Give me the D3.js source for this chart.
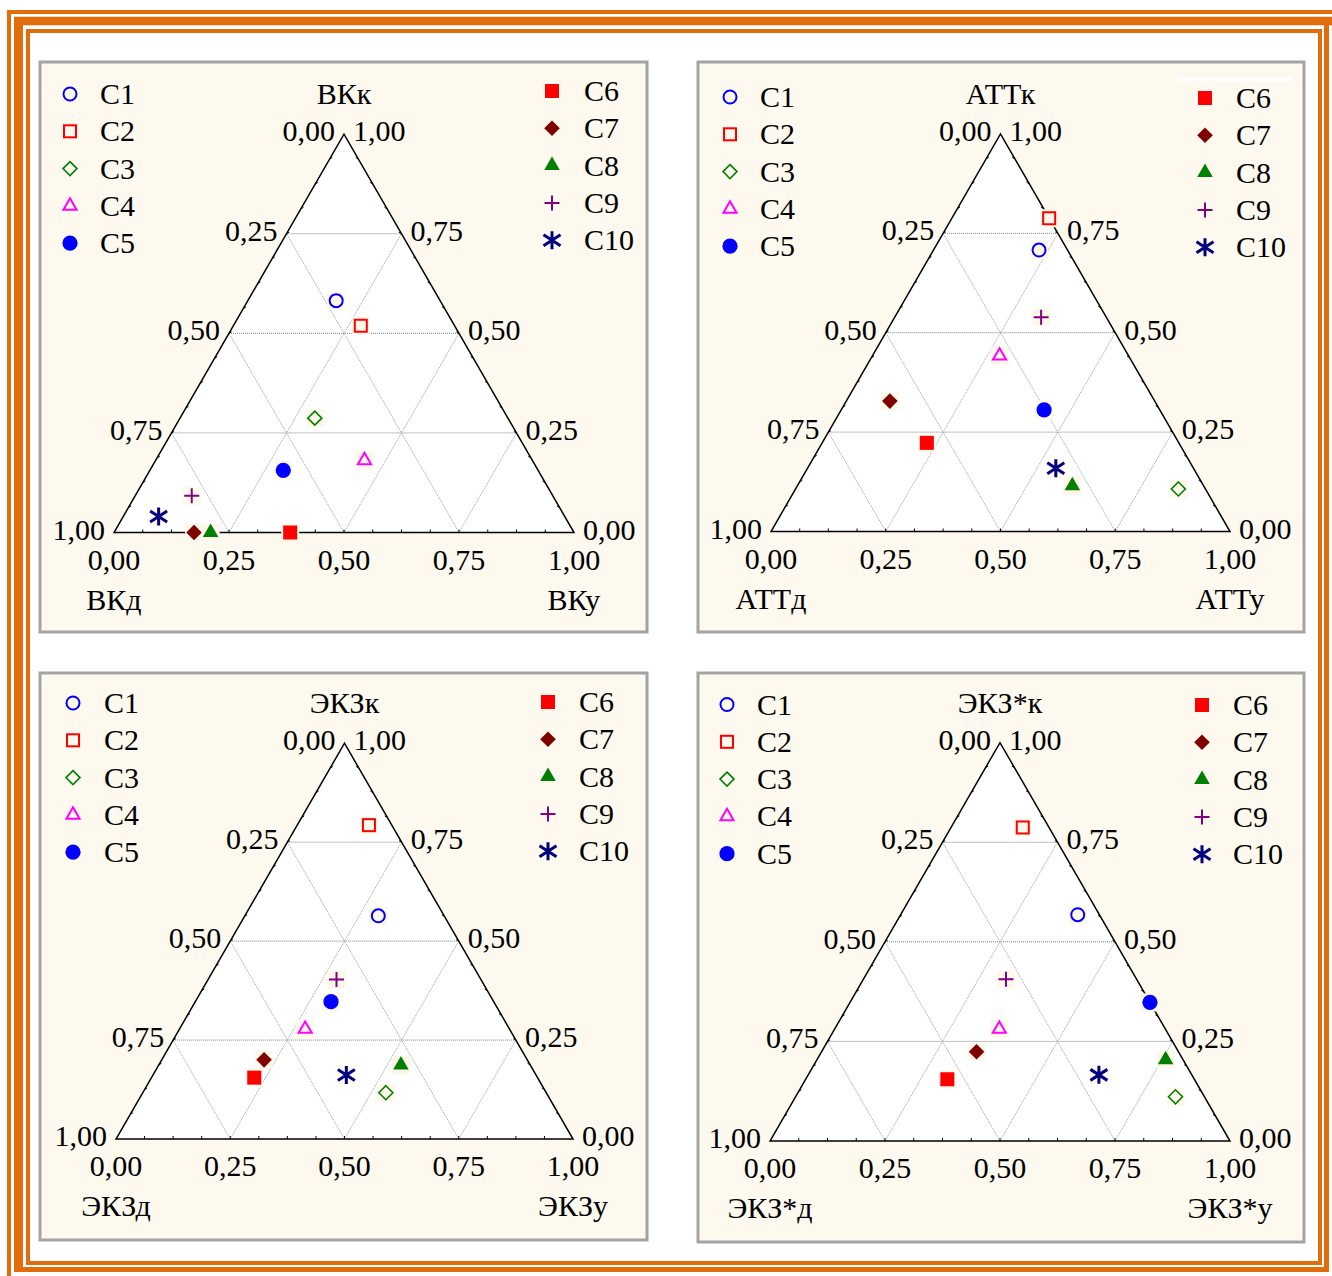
<!DOCTYPE html>
<meta charset="utf-8">
<script src="https://d3js.org/d3.v7.min.js"></script>
<style>
  body { margin: 0; background: #fff; }
  text { font-family: "Liberation Serif", "DejaVu Serif", serif; font-size: 30px; fill: #000; }
</style>
<div id="chart"></div>

<script>

// the series names (legend)
var seriesNames = ["C1", "C2", "C3", "C4", "C5", "C6", "C7", "C8", "C9", "C10"];

// values per series, as [д, к, у] (they add up to 1)
var vkData = [
  [0.226, 0.582, 0.192], [0.204, 0.519, 0.277], [0.420, 0.287, 0.293], [0.365, 0.181, 0.454],
  [0.554, 0.156, 0.290], [0.617, 0.000, 0.383], [0.826, 0.000, 0.174], [0.790, 0.000, 0.210],
  [0.785, 0.092, 0.123], [0.883, 0.040, 0.077]
];
var attData = [
  [0.062, 0.708, 0.230], [0.000, 0.788, 0.212], [0.059, 0.107, 0.834], [0.281, 0.442, 0.277],
  [0.252, 0.306, 0.442], [0.549, 0.223, 0.228], [0.577, 0.328, 0.095], [0.286, 0.115, 0.599],
  [0.142, 0.539, 0.319], [0.300, 0.159, 0.541]
];
var ekzData = [
  [0.144, 0.564, 0.292], [0.050, 0.793, 0.157], [0.351, 0.117, 0.532], [0.447, 0.278, 0.275],
  [0.356, 0.347, 0.297], [0.620, 0.155, 0.225], [0.576, 0.200, 0.224], [0.283, 0.187, 0.530],
  [0.316, 0.403, 0.281], [0.415, 0.162, 0.423]
];
var ekzStarData = [
  [0.047, 0.568, 0.385], [0.057, 0.787, 0.156], [0.063, 0.111, 0.826], [0.361, 0.281, 0.358],
  [0.000, 0.348, 0.652], [0.537, 0.155, 0.308], [0.439, 0.224, 0.337], [0.038, 0.204, 0.758],
  [0.284, 0.406, 0.310], [0.202, 0.166, 0.632]
];

// axis ticks
var tickValues = [0, 0.25, 0.5, 0.75, 1];
var gridValues = [0.25, 0.5, 0.75];
var minorValues = d3.range(1, 16).map(function (i) { return i / 16; });

// comma decimals like the original
var fmt = d3.formatLocale({decimal: ",", thousands: " ", grouping: [3], currency: ["", ""]}).format(".2f");

// marker styles per series
var markerColor = ["#0000ff", "#ff0000", "#008000", "#ff00ff", "#0000ff", "#ff0000", "#800000", "#008000", "#800080", "#000080"];

var svg = d3.select("#chart")
    .append("svg")
    .attr("width", 1332)
    .attr("height", 1276);

// orange frame
var orange = "#e36c0a";
var frame = svg.append("g").attr("stroke", orange).attr("fill", "none");
frame.append("line").attr("x1", 9).attr("y1", 12).attr("x2", 1340).attr("y2", 12).attr("stroke-width", 4);
frame.append("line").attr("x1", 9).attr("y1", 10).attr("x2", 9).attr("y2", 1280).attr("stroke-width", 4);
frame.append("line").attr("x1", 14).attr("y1", 21).attr("x2", 1332).attr("y2", 21).attr("stroke-width", 8.5);
frame.append("line").attr("x1", 18.5).attr("y1", 17).attr("x2", 18.5).attr("y2", 1272).attr("stroke-width", 9);
frame.append("line").attr("x1", 1326.5).attr("y1", 17).attr("x2", 1326.5).attr("y2", 1272).attr("stroke-width", 5);
frame.append("line").attr("x1", 14).attr("y1", 1269.5).attr("x2", 1329).attr("y2", 1269.5).attr("stroke-width", 5);
frame.append("rect").attr("x", 28).attr("y", 31).attr("width", 1292).attr("height", 1232).attr("stroke-width", 4);

// one marker, centred at 0,0
function drawMarker(g, i) {
  var c = markerColor[i];
  if (i == 0) g.append("circle").attr("r", 6.5).attr("fill", "none").attr("stroke", c).attr("stroke-width", 2);
  if (i == 1) g.append("rect").attr("x", -6).attr("y", -6).attr("width", 12).attr("height", 12).attr("fill", "none").attr("stroke", c).attr("stroke-width", 2);
  if (i == 2) g.append("path").attr("d", "M0,-7L7,0L0,7L-7,0Z").attr("fill", "none").attr("stroke", c).attr("stroke-width", 1.6);
  if (i == 3) g.append("path").attr("d", d3.symbol(d3.symbolTriangle, 75)()).attr("fill", "none").attr("stroke", c).attr("stroke-width", 2);
  if (i == 4) g.append("circle").attr("r", 7.6).attr("fill", c);
  if (i == 5) g.append("rect").attr("x", -7).attr("y", -7).attr("width", 14).attr("height", 14).attr("fill", c);
  if (i == 6) g.append("path").attr("d", "M0,-7.8L7.8,0L0,7.8L-7.8,0Z").attr("fill", c);
  if (i == 7) g.append("path").attr("d", d3.symbol(d3.symbolTriangle, 105)()).attr("fill", c);
  if (i == 8) g.append("path").attr("d", "M-7.5,0H7.5M0,-7.5V7.5").attr("stroke", c).attr("stroke-width", 2);
  if (i == 9) g.append("path").attr("d", "M0,-9V9M-8.5,-5.5L8.5,5.5M-8.5,5.5L8.5,-5.5").attr("stroke", c).attr("stroke-width", 3);
}

function drawPanel(cfg, data) {
  var p = svg.append("g");

  // background panel
  p.append("rect").attr("x", cfg.box[0]).attr("y", cfg.box[1])
    .attr("width", cfg.box[2] - cfg.box[0]).attr("height", cfg.box[3] - cfg.box[1])
    .attr("fill", "#fdf9ee").attr("stroke", "#a3a3a3").attr("stroke-width", 3);
  if (cfg.strip) p.append("rect").attr("x", cfg.strip[0]).attr("y", cfg.strip[1]).attr("width", cfg.strip[2]).attr("height", cfg.strip[3]).attr("fill", "#fff");

  // scales: x for the bottom component shifted by half of top, y for top component
  var W = cfg.xR - cfg.xL, H = W * Math.sqrt(3) / 2;
  var x = d3.scaleLinear().domain([0, 1]).range([cfg.xL, cfg.xR]);
  var y = d3.scaleLinear().domain([0, 1]).range([cfg.yB, cfg.yB - H]);
  var px = function (k, u) { return x(u + k / 2); };
  var py = function (k) { return y(k); };

  // triangle
  var tri = [[px(0, 0), py(0)], [px(1, 0), py(1)], [px(0, 1), py(0)]];
  p.append("path").attr("d", d3.line()(tri) + "Z").attr("fill", "#fff");

  // grid lines
  var grid = p.append("g").attr("stroke", "#9a9a9a").attr("stroke-width", 1).attr("stroke-dasharray", "1,1").attr("fill", "none");
  gridValues.forEach(function (t) {
    // constant к
    grid.append("line").attr("x1", px(t, 0)).attr("y1", py(t)).attr("x2", px(t, 1 - t)).attr("y2", py(t)).attr("stroke", "#808080");
    // constant у
    grid.append("line").attr("x1", px(0, t)).attr("y1", py(0)).attr("x2", px(1 - t, t)).attr("y2", py(1 - t));
    // constant д
    grid.append("line").attr("x1", px(0, 1 - t)).attr("y1", py(0)).attr("x2", px(1 - t, 0)).attr("y2", py(1 - t));
  });

  // minor ticks, pointing in
  var ticks = p.append("g").attr("stroke", "#000").attr("stroke-width", 1);
  minorValues.forEach(function (t) {
    ticks.append("line").attr("x1", px(0, t)).attr("y1", py(0)).attr("x2", px(0, t)).attr("y2", py(0) - 3);
    ticks.append("line").attr("x1", px(t, 0)).attr("y1", py(t)).attr("x2", px(t, 0) + 2.6).attr("y2", py(t) - 1.5);
    ticks.append("line").attr("x1", px(t, 1 - t)).attr("y1", py(t)).attr("x2", px(t, 1 - t) - 2.6).attr("y2", py(t) - 1.5);
  });

  p.append("path").attr("d", d3.line()(tri) + "Z").attr("fill", "none").attr("stroke", "#000").attr("stroke-width", 1.5);

  // tick labels
  tickValues.forEach(function (t) {
    // left = д
    p.append("text").attr("x", px(1 - t, 0) - 9).attr("y", py(1 - t) + 7).attr("text-anchor", "end").text(fmt(t));
    // right = к
    p.append("text").attr("x", px(t, 1 - t) + 9).attr("y", py(t) + 7).text(fmt(t));
    // bottom = у
    p.append("text").attr("x", px(0, t)).attr("y", py(0) + 37).attr("text-anchor", "middle").text(fmt(t));
  });

  // axis names
  p.append("text").attr("x", px(1, 0)).attr("y", py(1) - 30).attr("text-anchor", "middle").text(cfg.name + "к");
  p.append("text").attr("x", px(0, 0)).attr("y", py(0) + 77).attr("text-anchor", "middle").text(cfg.name + "д");
  p.append("text").attr("x", px(0, 1)).attr("y", py(0) + 77).attr("text-anchor", "middle").text(cfg.name + "у");

  // points
  data.forEach(function (d, i) {
    var g = p.append("g").attr("transform", "translate(" + px(d[1], d[2]) + "," + py(d[1]) + ")");
    g.append("rect").attr("x", -9).attr("y", -9).attr("width", 18).attr("height", 18).attr("fill", "#fdf8ea");
    drawMarker(g, i);
  });

  // legend, two columns of five
  seriesNames.forEach(function (s, i) {
    var col = i < 5 ? cfg.legL : cfg.legR;
    var ly = col[2] + (i % 5) * 37.3;
    var g = p.append("g").attr("transform", "translate(" + col[0] + "," + ly + ")");
    drawMarker(g, i);
    p.append("text").attr("x", col[1]).attr("y", ly + 10).text(s);
  });
}

drawPanel({name: "ВК", box: [40, 62, 647, 632], xL: 114, xR: 574, yB: 532.5, legL: [70, 100, 94], legR: [552, 584, 91]}, vkData);
drawPanel({name: "АТТ", box: [698, 62, 1304, 632], xL: 771, xR: 1230, yB: 531.5, legL: [730, 760, 97], legR: [1205, 1236, 98], strip: [1178, 77, 115, 4]}, attData);
drawPanel({name: "ЭКЗ", box: [40, 673, 647, 1240], xL: 116, xR: 573, yB: 1139, legL: [73, 104, 703], legR: [548, 579, 702]}, ekzData);
drawPanel({name: "ЭКЗ*", box: [698, 673, 1304, 1242], xL: 770, xR: 1230, yB: 1141, legL: [727, 757, 704.5], legR: [1202, 1233, 705]}, ekzStarData);

</script>
